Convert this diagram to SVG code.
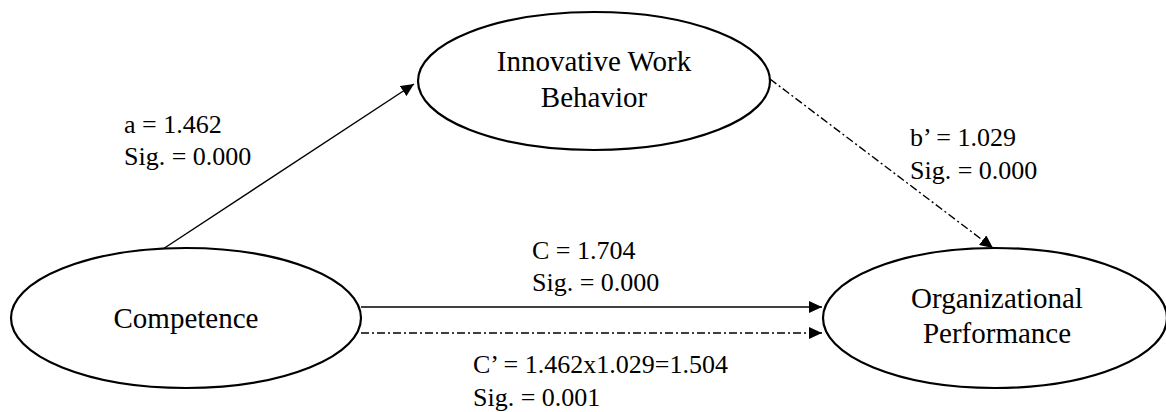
<svg xmlns="http://www.w3.org/2000/svg" width="1166" height="412" viewBox="0 0 1166 412">
  <style>
    .node ellipse { fill: #ffffff; stroke: #000000; stroke-width: 2.2; }
    .ntxt { font-family: "Liberation Serif", "Times New Roman", serif; font-size: 29px; fill: #000; text-anchor: middle; }
    .lbl { font-family: "Liberation Serif", "Times New Roman", serif; font-size: 26px; fill: #000; }
    .edge { fill: none; stroke: #000; stroke-width: 1.4; }
    .dashdot { stroke-dasharray: 8 3 2 3; }
  </style>
  <defs>
    <marker id="arrow" markerUnits="userSpaceOnUse" markerWidth="14" markerHeight="12" refX="13" refY="6" orient="auto">
      <path d="M0,0 L13,6 L0,12 z" fill="#000"/>
    </marker>
  </defs>
  <rect width="1166" height="412" fill="#ffffff"/>

  <g id="connectors">
    <line class="edge" x1="163" y1="249" x2="414" y2="84" marker-end="url(#arrow)"/>
    <line class="edge dashdot" x1="770" y1="79" x2="993" y2="248" marker-end="url(#arrow)"/>
    <line class="edge" x1="361" y1="307" x2="822" y2="307" marker-end="url(#arrow)"/>
    <line class="edge dashdot" x1="361" y1="333" x2="822" y2="333" marker-end="url(#arrow)"/>
  </g>

  <g id="node-iwb" class="node">
    <ellipse cx="594" cy="81" rx="176" ry="69"/>
    <text class="ntxt" x="594" y="71">Innovative Work</text>
    <text class="ntxt" x="594" y="107">Behavior</text>
  </g>
  <g id="node-competence" class="node">
    <ellipse cx="186" cy="318" rx="175" ry="70"/>
    <text class="ntxt" x="186" y="328">Competence</text>
  </g>
  <g id="node-op" class="node">
    <ellipse cx="995" cy="318" rx="172" ry="70"/>
    <text class="ntxt" x="997" y="308">Organizational</text>
    <text class="ntxt" x="997" y="343">Performance</text>
  </g>

  <g id="labels">
    <text class="lbl" x="124" y="133">a = 1.462</text>
    <text class="lbl" x="124" y="165">Sig. = 0.000</text>
    <text class="lbl" x="910" y="146">b’ = 1.029</text>
    <text class="lbl" x="910" y="179">Sig. = 0.000</text>
    <text class="lbl" x="532" y="259">C = 1.704</text>
    <text class="lbl" x="532" y="291">Sig. = 0.000</text>
    <text class="lbl" x="473" y="373">C’ = 1.462x1.029=1.504</text>
    <text class="lbl" x="473" y="406">Sig. = 0.001</text>
  </g>
</svg>
